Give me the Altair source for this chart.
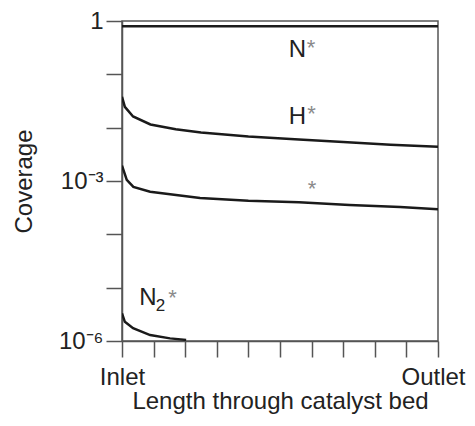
import altair as alt
import pandas as pd

# Coverage curves (x = fraction of bed length)
n_x = [0.0, 1.0]
n_y = [0.80, 0.80]

h_x = [0.0, 0.009, 0.035, 0.09, 0.17, 0.25, 0.40, 0.56, 0.70, 0.85, 1.0]
h_y = [0.0380, 0.0245, 0.0162, 0.0115, 0.0093, 0.0081, 0.0068, 0.0060, 0.0054, 0.0048, 0.0044]

s_x = [0.0, 0.015, 0.036, 0.089, 0.247, 0.40, 0.56, 0.72, 0.88, 1.0]
s_y = [0.00195, 0.00105, 0.000776, 0.000631, 0.000479, 0.000427, 0.000398, 0.000355, 0.000324, 0.000295]

n2_x = [0.0, 0.009, 0.035, 0.089, 0.152, 0.203]
n2_y = [3.31e-6, 2.29e-6, 1.74e-6, 1.29e-6, 1.12e-6, 1.05e-6]

# Curve labels: main letters, subscript, asterisks
let_text = ["N", "H", "N"]
let_x = [0.555, 0.555, 0.0823]
let_y = [0.286, 0.0158, 6.4e-6]

sub_text = ["2"]
sub_x = [0.122]
sub_y = [4.55e-6]

star_x = [0.598, 0.600, 0.601, 0.160]
star_y = [0.316, 0.0178, 7.08e-4, 6.46e-6]

x_ticks = [0.0, 0.1, 0.2, 0.3, 0.4, 0.5, 0.6, 0.7, 0.8, 0.9, 1.0]
y_ticks = [1e-6, 1e-5, 1e-4, 1e-3, 1e-2, 1e-1, 1.0]

rows = []
for name, xs, ys in [("N*", n_x, n_y), ("H*", h_x, h_y), ("*", s_x, s_y), ("N2*", n2_x, n2_y)]:
    for i, (a, b) in enumerate(zip(xs, ys)):
        rows.append({"series": name, "x": a, "y": b, "order": i})
curves = pd.DataFrame(rows)

letters = pd.DataFrame({"text": let_text, "x": let_x, "y": let_y})
subs = pd.DataFrame({"text": sub_text, "x": sub_x, "y": sub_y})
stars = pd.DataFrame({"text": ["*"] * len(star_x), "x": star_x, "y": star_y})

FONT = "Liberation Sans"
FS = 24

x_axis = alt.Axis(values=x_ticks, grid=False, tickSize=16,
                  labelExpr="datum.value == 0 ? 'Inlet' : (datum.value == 1 ? 'Outlet' : '')",
                  labelOffset=alt.condition("datum.value == 1", alt.value(-5), alt.value(0)),
                  labelPadding=8, labelFontSize=FS, labelFont=FONT, labelColor="#222",
                  labelFlush=False, labelOverlap=False,
                  domainColor="#555", tickColor="#555", domainWidth=1.5, tickWidth=1.5,
                  title="Length through catalyst bed", titleFont=FONT, titleFontSize=FS,
                  titleFontWeight="normal", titleColor="#222",
                  titleX=158, titleY=67, titleBaseline="alphabetic", titleAlign="center")
y_axis = alt.Axis(values=y_ticks, grid=False, tickSize=16,
                  labelExpr="datum.value > 0.5 ? '1' : (datum.value > 5e-4 && datum.value < 2e-3 ? '10\u207b\u00b3' : (datum.value < 2e-6 ? '10\u207b\u2076' : ''))",
                  labelPadding=3, labelFontSize=FS, labelFont=FONT, labelColor="#222",
                  labelFlush=False, labelOverlap=False,
                  domainColor="#555", tickColor="#555", domainWidth=1.5, tickWidth=1.5,
                  title="Coverage", titleFont=FONT, titleFontSize=FS,
                  titleFontWeight="normal", titleColor="#222",
                  titleX=-98, titleY=160, titleBaseline="middle", titleAngle=-90,
                  titleAlign="center")

x_scale = alt.Scale(domain=[0, 1], nice=False)
y_scale = alt.Scale(type="log", domain=[1e-6, 1], nice=False)

x_enc = alt.X("x:Q", scale=x_scale, axis=x_axis)
y_enc = alt.Y("y:Q", scale=y_scale, axis=y_axis)

lines = alt.Chart(curves).mark_line(color="#1a1a1a", strokeWidth=2.5, clip=True).encode(
    x=x_enc, y=y_enc, detail="series:N", order="order:Q")

letter_marks = alt.Chart(letters).mark_text(
    font=FONT, fontSize=FS, align="center", baseline="middle", color="#222").encode(
    x=x_enc, y=y_enc, text="text:N")

sub_marks = alt.Chart(subs).mark_text(
    font=FONT, fontSize=17, align="center", baseline="middle", color="#222").encode(
    x=x_enc, y=y_enc, text="text:N")

star_marks = alt.Chart(stars).mark_text(
    font=FONT, fontSize=22, align="center", baseline="middle", color="#8a8a8a").encode(
    x=x_enc, y=y_enc, text="text:N")

chart = alt.layer(lines, letter_marks, sub_marks, star_marks).properties(
    width=316, height=320,
    autosize=alt.AutoSizeParams(type="none"),
    padding={"left": 114, "top": 13, "right": 29, "bottom": 73},
).configure_view(stroke="#555", strokeWidth=1.5)

chart.save("out.html", embed_options={"renderer": "svg", "actions": False})
